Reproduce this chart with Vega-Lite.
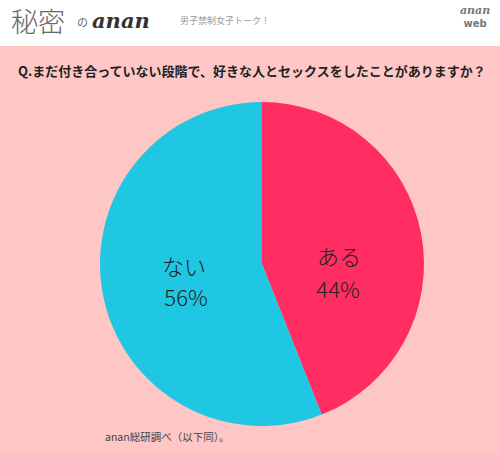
{
  "$schema": "https://vega.github.io/schema/vega-lite/v6.json",
  "width": 500,
  "height": 408,
  "autosize": "none",
  "padding": {"top": 46, "left": 0, "right": 0, "bottom": 0},
  "background": "white",
  "config": {
    "view": {"fill": "#FFC6C6", "stroke": null},
    "text": {"font": "Noto Sans CJK JP"}
  },
  "data": {
    "values": [
      {"answer": "ある", "share": 0.44},
      {"answer": "ない", "share": 0.56}
    ]
  },
  "layer": [
    {
      "mark": {"type": "arc", "outerRadius": 162},
      "encoding": {
        "theta": {"field": "share", "type": "quantitative", "stack": true},
        "order": {"field": "share", "type": "quantitative", "sort": "ascending"},
        "color": {
          "field": "answer",
          "type": "nominal",
          "scale": {"domain": ["ある", "ない"], "range": ["#FF2D62", "#20C7E2"]},
          "legend": null
        },
        "x": {"value": 262},
        "y": {"value": 218}
      }
    },
    {
      "transform": [{"filter": "datum.answer == 'ある'"}],
      "mark": {"type": "text", "fontSize": 22, "fontWeight": 300, "color": "#222", "baseline": "middle"},
      "encoding": {
        "text": {"field": "answer"},
        "x": {"value": 339},
        "y": {"value": 212}
      }
    },
    {
      "transform": [{"filter": "datum.answer == 'ある'"}],
      "mark": {"type": "text", "fontSize": 22, "fontWeight": 300, "color": "#222", "baseline": "middle"},
      "encoding": {
        "text": {"field": "share", "type": "quantitative", "format": ".0%"},
        "x": {"value": 338},
        "y": {"value": 245}
      }
    },
    {
      "transform": [{"filter": "datum.answer == 'ない'"}],
      "mark": {"type": "text", "fontSize": 22, "fontWeight": 300, "color": "#222", "baseline": "middle"},
      "encoding": {
        "text": {"field": "answer"},
        "x": {"value": 184},
        "y": {"value": 222}
      }
    },
    {
      "transform": [{"filter": "datum.answer == 'ない'"}],
      "mark": {"type": "text", "fontSize": 22, "fontWeight": 300, "color": "#222", "baseline": "middle"},
      "encoding": {
        "text": {"field": "share", "type": "quantitative", "format": ".0%"},
        "x": {"value": 186},
        "y": {"value": 253}
      }
    },
    {
      "data": {"values": [{}]},
      "mark": {
        "type": "text",
        "text": "Q.まだ付き合っていない段階で、好きな人とセックスをしたことがありますか？",
        "align": "left",
        "baseline": "middle",
        "fontSize": 13,
        "fontWeight": "bold",
        "color": "#222"
      },
      "encoding": {"x": {"value": 18}, "y": {"value": 26}}
    },
    {
      "data": {"values": [{}]},
      "mark": {
        "type": "text",
        "text": "anan総研調べ（以下同）。",
        "align": "left",
        "baseline": "middle",
        "fontSize": 10.5,
        "color": "#444"
      },
      "encoding": {"x": {"value": 105}, "y": {"value": 392}}
    },
    {
      "data": {"values": [{}]},
      "mark": {
        "type": "text",
        "text": "秘密",
        "align": "left",
        "baseline": "middle",
        "fontSize": 27,
        "fontWeight": 300,
        "color": "#666"
      },
      "encoding": {"x": {"value": 11}, "y": {"value": -22}}
    },
    {
      "data": {"values": [{}]},
      "mark": {
        "type": "text",
        "text": "の",
        "align": "left",
        "baseline": "middle",
        "fontSize": 11,
        "color": "#666"
      },
      "encoding": {"x": {"value": 77}, "y": {"value": -22}}
    },
    {
      "data": {"values": [{}]},
      "mark": {
        "type": "text",
        "text": "anan",
        "align": "left",
        "baseline": "middle",
        "font": "DejaVu Serif",
        "fontSize": 21,
        "fontWeight": "bold",
        "fontStyle": "italic",
        "color": "#333"
      },
      "encoding": {"x": {"value": 92}, "y": {"value": -24}}
    },
    {
      "data": {"values": [{}]},
      "mark": {
        "type": "text",
        "text": "男子禁制女子トーク！",
        "align": "left",
        "baseline": "middle",
        "fontSize": 9,
        "color": "#999"
      },
      "encoding": {"x": {"value": 180}, "y": {"value": -25}}
    },
    {
      "data": {"values": [{}]},
      "mark": {
        "type": "text",
        "text": "anan",
        "align": "center",
        "baseline": "middle",
        "font": "DejaVu Serif",
        "fontSize": 11,
        "fontWeight": "bold",
        "fontStyle": "italic",
        "color": "#777"
      },
      "encoding": {"x": {"value": 475}, "y": {"value": -35}}
    },
    {
      "data": {"values": [{}]},
      "mark": {
        "type": "text",
        "text": "web",
        "align": "center",
        "baseline": "middle",
        "font": "DejaVu Sans",
        "fontSize": 10,
        "fontWeight": "bold",
        "color": "#777"
      },
      "encoding": {"x": {"value": 475}, "y": {"value": -22}}
    }
  ]
}
